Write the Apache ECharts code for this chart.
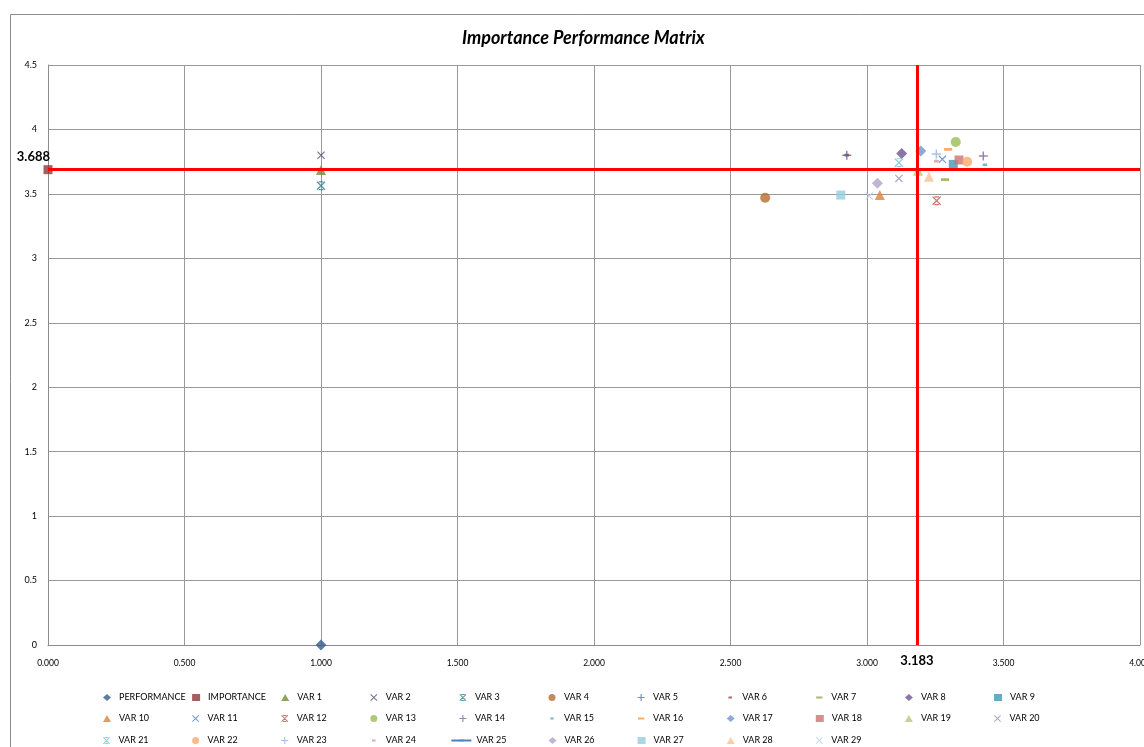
<!DOCTYPE html>
<html>
<head>
<meta charset="utf-8">
<script src="https://cdn.jsdelivr.net/npm/echarts@6/dist/echarts.min.js"></script>
<style>
  html, body { margin: 0; padding: 0; background: #ffffff; overflow: hidden; }
  #chart { width: 1144px; height: 747px; }
</style>
</head>
<body>
<div id="chart"></div>
<script>
// ---- data ----
const seriesNames = ['PERFORMANCE', 'IMPORTANCE', 'VAR 1', 'VAR 2', 'VAR 3', 'VAR 4', 'VAR 5', 'VAR 6', 'VAR 7', 'VAR 8',
  'VAR 9', 'VAR 10', 'VAR 11', 'VAR 12', 'VAR 13', 'VAR 14', 'VAR 15', 'VAR 16', 'VAR 17', 'VAR 18',
  'VAR 19', 'VAR 20', 'VAR 21', 'VAR 22', 'VAR 23', 'VAR 24', 'VAR 25', 'VAR 26', 'VAR 27', 'VAR 28', 'VAR 29'];
// performance (x) and importance (y) of each series; VAR 25 has no visible point
const performanceVals = [1.000, 0.000, 1.000, 1.000, 1.000, 2.627, 2.926, 2.926, 3.286, 3.127,
  3.316, 3.047, 3.276, 3.255, 3.325, 3.426, 3.432, 3.297, 3.197, 3.337,
  3.187, 3.117, 3.117, 3.367, 3.254, 3.254, null, 3.038, 2.904, 3.227, 3.008];
const importanceVals = [0.000, 3.688, 3.686, 3.800, 3.563, 3.470, 3.800, 3.800, 3.610, 3.814,
  3.729, 3.491, 3.768, 3.447, 3.902, 3.794, 3.726, 3.846, 3.832, 3.763,
  3.680, 3.620, 3.742, 3.750, 3.809, 3.754, null, 3.582, 3.491, 3.633, 3.483];
const performanceMean = 3.183;
const importanceMean = 3.688;
const xTicks = [0, 0.5, 1, 1.5, 2, 2.5, 3, 3.5, 4];
const yTicks = [0, 0.5, 1, 1.5, 2, 2.5, 3, 3.5, 4, 4.5];

// ---- styling ----
const colors = ['#385D8A', '#8C3836', '#71893F', '#5C4776', '#357D91', '#B66D31',
  '#4A72A8', '#A5403D', '#8AAA4E', '#6E5391', '#3F9AB2', '#DD8238',
  '#4F81BD', '#C0504D', '#9BBB59', '#8064A2', '#4BACC6', '#F79646',
  '#7096CE', '#CD7371', '#AFCB7B', '#9C89B8', '#71C2D8', '#F9AA6C',
  '#95B3D7', '#D99694', '#4F81BD', '#B3A2C7', '#93CDDD', '#FAC090', '#B9CDE5'];
const P = {
  x: 'path://M0,1 L1,0 L10,9 L9,10 Z M9,0 L10,1 L1,10 L0,9 Z',
  star: 'path://M0,1 L1,0 L10,9 L9,10 Z M9,0 L10,1 L1,10 L0,9 Z M2.5,0 L7.5,0 L7.5,1.3 L2.5,1.3 Z M2.5,8.7 L7.5,8.7 L7.5,10 L2.5,10 Z',
  plus: 'path://M4.2,0 L5.8,0 L5.8,4.2 L10,4.2 L10,5.8 L5.8,5.8 L5.8,10 L4.2,10 L4.2,5.8 L0,5.8 L0,4.2 L4.2,4.2 Z',
  sdash: 'path://M0,0 L0.001,0 Z M2.5,3.5 L7.5,3.5 L7.5,6.5 L2.5,6.5 Z M10,10 L9.999,10 Z',
  ldash: 'path://M0,0 L0.001,0 Z M0.5,3.5 L9.5,3.5 L9.5,6.5 L0.5,6.5 Z M10,10 L9.999,10 Z'
};
const symbolCycle = ['diamond', 'rect', 'triangle', P.x, P.star, 'circle', P.plus, P.sdash, P.ldash];
const sizeCycle = [11, 9, 10, 8, 9, 10, 9, 9, 9];
const FONT = "Lato, 'Liberation Sans', sans-serif";

const series = seriesNames.map((name, i) => {
  const pt = performanceVals[i] == null ? [] : [[performanceVals[i], importanceVals[i]]];
  const isLine = name === 'VAR 25';
  return {
    name: name,
    type: isLine ? 'line' : 'scatter',
    data: pt,
    symbol: symbolCycle[i % 9],
    symbolSize: sizeCycle[i % 9],
    itemStyle: { color: colors[i] },
    lineStyle: isLine ? { color: colors[i], width: 2 } : undefined,
    animation: false,
    z: 3
  };
});
series.push({
  name: 'mean lines',
  type: 'scatter',
  data: [],
  z: 5,
  animation: false,
  markLine: {
    silent: true,
    symbol: ['none', 'none'],
    animation: false,
    precision: 3,
    lineStyle: { color: '#FF0000', width: 3, type: 'solid' },
    label: { fontFamily: FONT, fontWeight: 'bold', fontSize: 13, color: '#000' },
    data: [
      { yAxis: importanceMean, label: { position: 'start', distance: -2, verticalAlign: 'bottom', lineHeight: 26, formatter: () => importanceMean.toFixed(3) } },
      { xAxis: performanceMean, label: { position: 'start', distance: 9, formatter: () => performanceMean.toFixed(3) } }
    ]
  }
});

// legend: one small legend per item, laid out in 11 columns x 3 rows
const colStep = 89.1, textStart0 = 119, rowTops = [693, 714, 736];
const legends = seriesNames.map((name, i) => {
  const col = i % 11, row = Math.floor(i / 11);
  const isLine = name === 'VAR 25';
  const textStart = textStart0 + col * colStep;
  return {
    orient: 'horizontal',
    left: isLine ? textStart - 25 : textStart - 16,
    top: rowTops[row],
    padding: 0,
    itemWidth: isLine ? 20 : 8,
    itemHeight: 7,
    itemGap: 0,
    selectedMode: false,
    data: [name],
    textStyle: { fontFamily: FONT, fontSize: 9, color: '#000', padding: isLine ? 0 : [0, 0, 0, 3] }
  };
});

const option = {
  backgroundColor: '#ffffff',
  animation: false,
  title: {
    text: 'Importance Performance Matrix', left: 462, top: 29, padding: 0,
    textStyle: { fontFamily: FONT, fontSize: 18, fontWeight: 'bold', fontStyle: 'italic', color: '#000' }
  },
  graphic: [{
    type: 'rect', silent: true, z: -1,
    shape: { x: 10.5, y: 14.5, width: 1200, height: 800 },
    style: { fill: 'none', stroke: '#8c8c8c', lineWidth: 1 }
  }],
  grid: { left: 48, right: 4, top: 65, bottom: 102, containLabel: false, outerBoundsMode: 'none' },
  xAxis: {
    type: 'value', min: xTicks[0], max: xTicks[xTicks.length - 1], interval: 0.5,
    axisLine: { show: true, lineStyle: { color: '#8c8c8c', width: 1 } },
    axisTick: { show: false },
    splitLine: { show: true, lineStyle: { color: '#999999', width: 1 } },
    axisLabel: { margin: 14, fontFamily: FONT, fontSize: 8.5, color: '#000', formatter: v => v.toFixed(3) }
  },
  yAxis: {
    type: 'value', min: yTicks[0], max: yTicks[yTicks.length - 1], interval: 0.5,
    axisLine: { show: true, lineStyle: { color: '#8c8c8c', width: 1 } },
    axisTick: { show: false },
    splitLine: { show: true, lineStyle: { color: '#999999', width: 1 } },
    axisLabel: { margin: 11, fontFamily: FONT, fontSize: 9, color: '#000' }
  },
  legend: legends,
  series: series
};

const chart = echarts.init(document.getElementById('chart'), null, { renderer: 'canvas' });
chart.setOption(option);
</script>
</body>
</html>
